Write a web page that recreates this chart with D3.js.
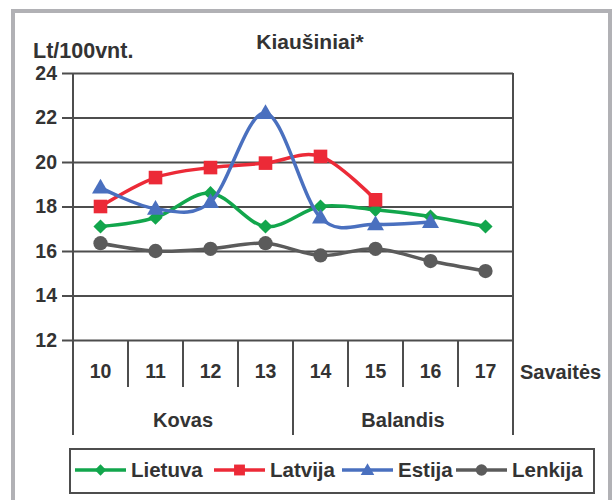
<!DOCTYPE html>
<html>
<head>
<meta charset="utf-8">
<script src="https://cdn.jsdelivr.net/npm/d3@7"></script>
<style>
  body { margin: 0; background: #fff; }
  text { font-family: "Liberation Sans", Arial, sans-serif; font-weight: bold; fill: #333; }
</style>
</head>
<body>
<div id="chart"></div>
<script>
"use strict"
// chart data
var weeks = ["10", "11", "12", "13", "14", "15", "16", "17"];
var months = ["Kovas", "Balandis"];
var monthWeeks = [4, 4]; // weeks in each month
var yTicks = [12, 14, 16, 18, 20, 22, 24];
var lietuva = [17.1, 17.5, 18.6, 17.1, 18.0, 17.85, 17.55, 17.1];
var latvija = [18.0, 19.3, 19.75, 19.95, 20.25, 18.3, null, null];
var estija = [18.85, 17.9, 18.2, 22.2, 17.5, 17.2, 17.3, null];
var lenkija = [16.35, 16.0, 16.1, 16.35, 15.8, 16.1, 15.55, 15.1];
var seriesNames = ["Lietuva", "Latvija", "Estija", "Lenkija"];

var series = [
  {name: seriesNames[0], values: lietuva, color: "#12a64c", marker: "diamond"},
  {name: seriesNames[1], values: latvija, color: "#ec2a37", marker: "square"},
  {name: seriesNames[2], values: estija, color: "#4a70bf", marker: "triangle"},
  {name: seriesNames[3], values: lenkija, color: "#5b5b5b", marker: "circle"}
];

var width = 613, height = 500;
var plot = {left: 73, right: 513, top: 73, bottom: 340};
var gridColor = "#4d4d4d";

var svg = d3.select("#chart").append("svg")
    .attr("width", width)
    .attr("height", height);

// outer grey frame
svg.append("rect")
    .attr("x", 13).attr("y", 11)
    .attr("width", 597).attr("height", 520)
    .attr("fill", "none")
    .attr("stroke", "#b1b1b5")
    .attr("stroke-width", 4);

var xScale = d3.scaleBand().domain(weeks).range([plot.left, plot.right]);
var yScale = d3.scaleLinear().domain([12, 24]).range([plot.bottom, plot.top]);

// horizontal grid lines + tick labels
var yAxis = d3.axisLeft(yScale)
    .tickValues(yTicks)
    .tickSize(-(plot.right - plot.left))
    .tickPadding(16)
    .tickFormat(d3.format("d"));

var gy = svg.append("g")
    .attr("transform", "translate(" + plot.left + ",0)")
    .call(yAxis);
gy.select(".domain").remove();
gy.selectAll(".tick line")
    .attr("x1", -11)
    .attr("stroke", gridColor)
    .attr("stroke-width", 2);
gy.selectAll(".tick text")
    .attr("font-size", 19.5)
    .style("font-family", "Liberation Sans, Arial, sans-serif")
    .attr("fill", "#333");

// left axis and right border
svg.append("line")
    .attr("x1", plot.left).attr("x2", plot.left)
    .attr("y1", plot.top).attr("y2", 435)
    .attr("stroke", gridColor).attr("stroke-width", 2);
svg.append("line")
    .attr("x1", plot.right).attr("x2", plot.right)
    .attr("y1", plot.top).attr("y2", 435)
    .attr("stroke", gridColor).attr("stroke-width", 2);

// week separators
svg.selectAll(".weekSep")
    .data(weeks.slice(1))
    .enter().append("line")
    .attr("class", "weekSep")
    .attr("x1", function(d) { return xScale(d); })
    .attr("x2", function(d) { return xScale(d); })
    .attr("y1", plot.bottom)
    .attr("y2", function(d, i) { return i + 1 === monthWeeks[0] ? 435 : 387; })
    .attr("stroke", gridColor).attr("stroke-width", 2);

// week labels
svg.selectAll(".weekLabel")
    .data(weeks)
    .enter().append("text")
    .attr("class", "weekLabel")
    .attr("x", function(d) { return xScale(d) + xScale.bandwidth() / 2; })
    .attr("y", 378)
    .attr("text-anchor", "middle")
    .attr("font-size", 19.5)
    .text(function(d) { return d; });

svg.append("text")
    .attr("x", 520).attr("y", 379)
    .attr("font-size", 20)
    .text("Savaitės");

// month labels
var start = 0;
months.forEach(function(m, i) {
  var x0 = xScale(weeks[start]);
  var x1 = xScale(weeks[start + monthWeeks[i] - 1]) + xScale.bandwidth();
  svg.append("text")
      .attr("x", (x0 + x1) / 2).attr("y", 427)
      .attr("text-anchor", "middle")
      .attr("font-size", 20)
      .text(m);
  start += monthWeeks[i];
});

// titles
svg.append("text")
    .attr("x", 310).attr("y", 49)
    .attr("text-anchor", "middle")
    .attr("font-size", 21)
    .text("Kiaušiniai*");
svg.append("text")
    .attr("x", 33).attr("y", 58)
    .attr("font-size", 21.5)
    .text("Lt/100vnt.");

// markers
function markerPath(type, big) {
  var s = big ? 1 : 0.8;
  if (type === "diamond") return d3.symbol().type(d3.symbolSquare).size(100 * s * s)();
  if (type === "square") return d3.symbol().type(d3.symbolSquare).size(185 * s * s)();
  if (type === "triangle") return d3.symbol().type(d3.symbolTriangle).size(125 * s * s)();
  return d3.symbol().type(d3.symbolCircle).size(160 * s * s)();
}
function markerTransform(type, x, y) {
  var t = "translate(" + x + "," + y + ")";
  if (type === "diamond") t += " rotate(45)";
  if (type === "triangle") t += " translate(0,1)";
  return t;
}

var line = d3.line()
    .defined(function(d) { return d != null; })
    .x(function(d, i) { return xScale(weeks[i]) + xScale.bandwidth() / 2; })
    .y(function(d) { return yScale(d); })
    .curve(d3.curveCatmullRom.alpha(0));

var order = [3, 0, 1, 2];
order.forEach(function(k) {
  var s = series[k];
  var g = svg.append("g");
  g.append("path")
      .attr("d", line(s.values))
      .attr("fill", "none")
      .attr("stroke", s.color)
      .attr("stroke-width", 3.5)
      .attr("stroke-linejoin", "round");
  g.selectAll("path.pt")
      .data(s.values.map(function(v, i) { return {v: v, i: i}; }).filter(function(d) { return d.v != null; }))
      .enter().append("path")
      .attr("class", "pt")
      .attr("d", markerPath(s.marker, true))
      .attr("transform", function(d) {
        return markerTransform(s.marker, xScale(weeks[d.i]) + xScale.bandwidth() / 2, yScale(d.v));
      })
      .attr("fill", s.color);
});

// legend
svg.append("rect")
    .attr("x", 70).attr("y", 449)
    .attr("width", 524).attr("height", 44)
    .attr("fill", "#fff")
    .attr("stroke", gridColor)
    .attr("stroke-width", 2);

var legendX = [75, 214, 342, 456];
series.forEach(function(s, i) {
  var g = svg.append("g").attr("transform", "translate(" + legendX[i] + ",470)");
  g.append("line")
      .attr("x1", 0).attr("x2", 51)
      .attr("stroke", s.color).attr("stroke-width", 3.5);
  g.append("path")
      .attr("d", markerPath(s.marker, false))
      .attr("transform", markerTransform(s.marker, 25.5, 0))
      .attr("fill", s.color);
  g.append("text")
      .attr("x", 56).attr("y", 7)
      .attr("font-size", 20.5)
      .text(s.name);
});
</script>
</body>
</html>
